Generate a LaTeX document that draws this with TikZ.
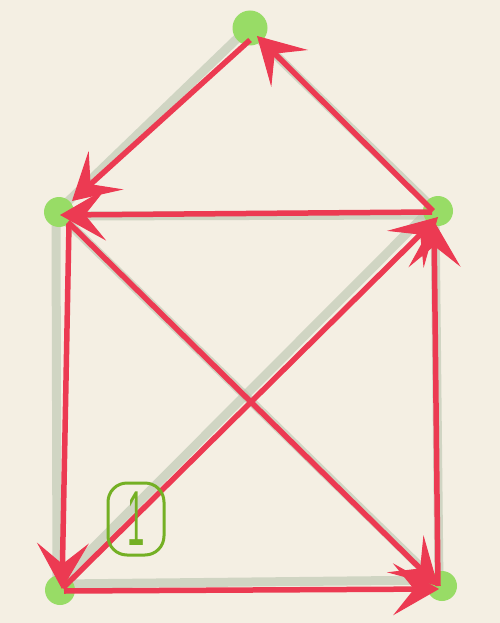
\documentclass[tikz,border=0pt]{standalone}
\usepackage{fontspec}
\setmainfont{Liberation Sans}
\usetikzlibrary{arrows.meta}
\definecolor{bgc}{HTML}{F4EFE3}
\definecolor{redc}{HTML}{EC3A52}
\definecolor{dotc}{HTML}{98DC66}
\definecolor{shc}{HTML}{B9C4AE}
\definecolor{onec}{HTML}{74B024}
\tikzset{
  vdot/.style={circle, fill=dotc, inner sep=0pt, minimum size=30pt},
  shadowline/.style={draw=shc, line width=9pt, opacity=0.6},
  redarrow/.style={draw=redc, line width=5.5pt,
    -{Stealth[length=46pt,width=52pt,inset=21pt,line width=1pt,fill=redc]}},
  onebox/.style={draw=onec, line width=3pt, rounded corners=19pt,
    minimum width=56pt, minimum height=72pt, inner sep=0pt, text=onec}
}
\begin{document}
\begin{tikzpicture}[x=1pt,y=-1pt]
\useasboundingbox (0,0) rectangle (500,623);
\fill[bgc] (0,0) rectangle (500,623);
% vertices
\coordinate (T) at (250,28);
\coordinate (UL) at (59,212);
\coordinate (UR) at (438,211);
\coordinate (LL) at (60,590);
\coordinate (LR) at (442,586);
% pencil shadow outline
\draw[shadowline] ([shift={(-4,2)}]T) -- ([shift={(-4,2)}]UL);
\draw[shadowline] ([shift={(2,4)}]T) -- ([shift={(2,4)}]UR);
\draw[shadowline] ([shift={(0,4)}]UL) -- ([shift={(0,4)}]UR);
\draw[shadowline] ([shift={(-3,0)}]UL) -- ([shift={(-3,0)}]LL);
\draw[shadowline] ([shift={(-3,0)}]UR) -- ([shift={(-3,0)}]LR);
\draw[shadowline] ([shift={(0,-6)}]LL) -- ([shift={(0,-6)}]LR);
\draw[shadowline] ([shift={(-5,-3)}]UL) -- ([shift={(-5,-3)}]LR);
\draw[shadowline] ([shift={(-5,-4)}]LL) -- ([shift={(-5,-4)}]UR);
% green dots
\node[vdot, minimum size=35pt] (t) at (T) {};
\node[vdot] (ul) at (UL) {};
\node[vdot] (ur) at (UR) {};
\node[vdot] (ll) at (LL) {};
\node[vdot] (lr) at (LR) {};
% red path (Haus vom Nikolaus)
\draw[redarrow] ([shift={(3,-2)}]ll.center) -- ([shift={(0,6)}]ur.center);
\draw[redarrow] ([shift={(-5,0)}]ur.center) -- ([shift={(7,8)}]t.center);
\draw[redarrow] ([shift={(0,12)}]t.center) -- ([shift={(13,-11)}]ul.center);
\draw[redarrow] ([shift={(10,12)}]ul.center) -- ([shift={(2,-1)}]ll.center);
\draw[redarrow] ([shift={(4,1)}]ll.center) -- ([shift={(-3,3)}]lr.center);
\draw[redarrow] ([shift={(-4,0)}]lr.center) -- ([shift={(-4,10)}]ur.center);
\draw[redarrow] ([shift={(-6,1)}]ur.center) -- ([shift={(1,3)}]ul.center);
\draw[redarrow] ([shift={(9,10)}]ul.center) -- ([shift={(-4,0)}]lr.center);
% start label
\node[onebox] (one) at (136,519) {\scalebox{0.4}[1]{\fontsize{78}{78}\selectfont 1}};
\end{tikzpicture}
\end{document}
